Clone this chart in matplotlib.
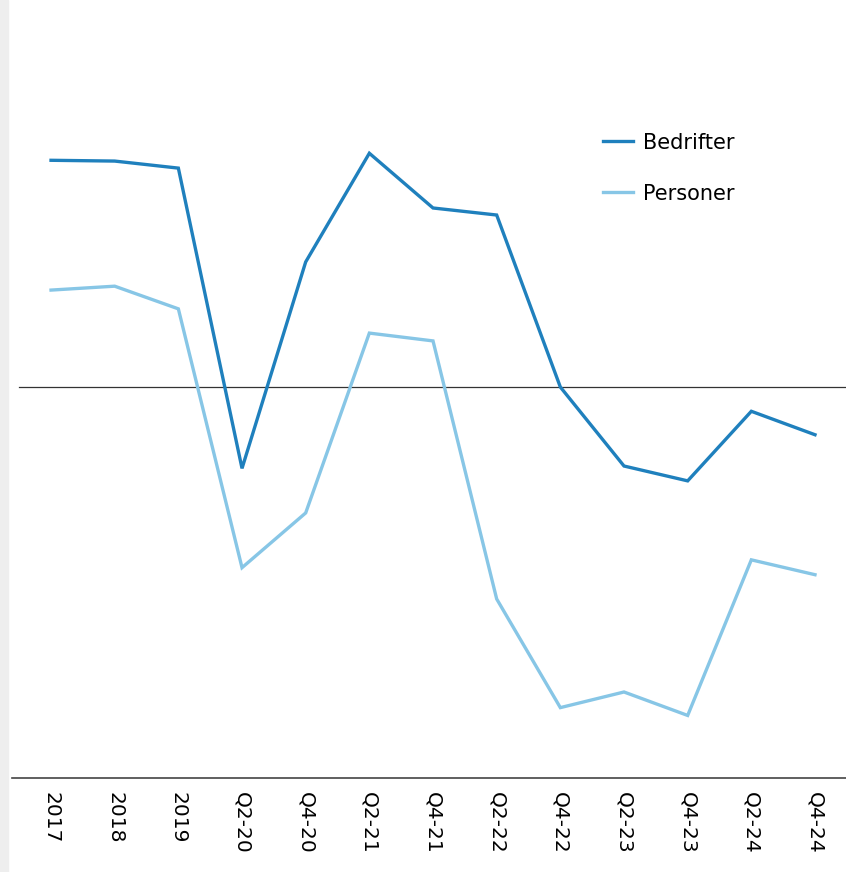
import matplotlib
matplotlib.use("Agg")
import matplotlib.pyplot as plt
from matplotlib.patches import Rectangle

categories = ["2017", "2018", "2019", "Q2-20", "Q4-20", "Q2-21", "Q4-21",
              "Q2-22", "Q4-22", "Q2-23", "Q4-23", "Q2-24", "Q4-24"]
bedrifter = [29.0, 28.9, 28.0, -10.4, 16.0, 29.9, 22.9, 22.0, 0.0, -10.1, -12.0, -3.1, -6.1]
personer = [12.4, 12.9, 10.0, -23.1, -16.1, 6.9, 5.9, -27.1, -41.0, -39.0, -42.0, -22.1, -24.0]

W, H = 846, 872
fig = plt.figure(figsize=(W / 100, H / 100), dpi=100)
fig.patches.append(Rectangle((0, 0), 8 / W, 1, transform=fig.transFigure,
                             color="#eeeeee", zorder=0))

ax = fig.add_axes([12 / W, (H - 778) / H, (846 - 12) / W, 778 / H])
x = list(range(len(categories)))
ax.plot(x, bedrifter, color="#1f80bd", lw=2.4, label="Bedrifter", solid_joinstyle="miter")
ax.plot(x, personer, color="#87c6e6", lw=2.4, label="Personer", solid_joinstyle="miter")
ax.axhline(0, xmin=7 / 834, xmax=1, color="#333333", lw=0.9, zorder=1)

ax.set_xlim(-0.613, 12.487)
ax.set_ylim(-50, 49.5)
for s in ["top", "right", "left"]:
    ax.spines[s].set_visible(False)
ax.spines["bottom"].set_color("#444444")
ax.spines["bottom"].set_linewidth(1.2)
ax.set_yticks([])
ax.set_xticks(x)
ax.set_xticklabels(categories, rotation=-90, fontsize=14.5, family="DejaVu Sans",
                   va="top", ha="center")
ax.tick_params(axis="x", length=0, pad=10)

leg = ax.legend(loc="upper left", bbox_to_anchor=(584 / W, (H - 114) / H),
                bbox_transform=fig.transFigure, frameon=False,
                prop={"family": "DejaVu Sans", "size": 15}, handlelength=1.45,
                handletextpad=0.5, labelspacing=1.48)

fig.savefig("out.png", dpi=100)
